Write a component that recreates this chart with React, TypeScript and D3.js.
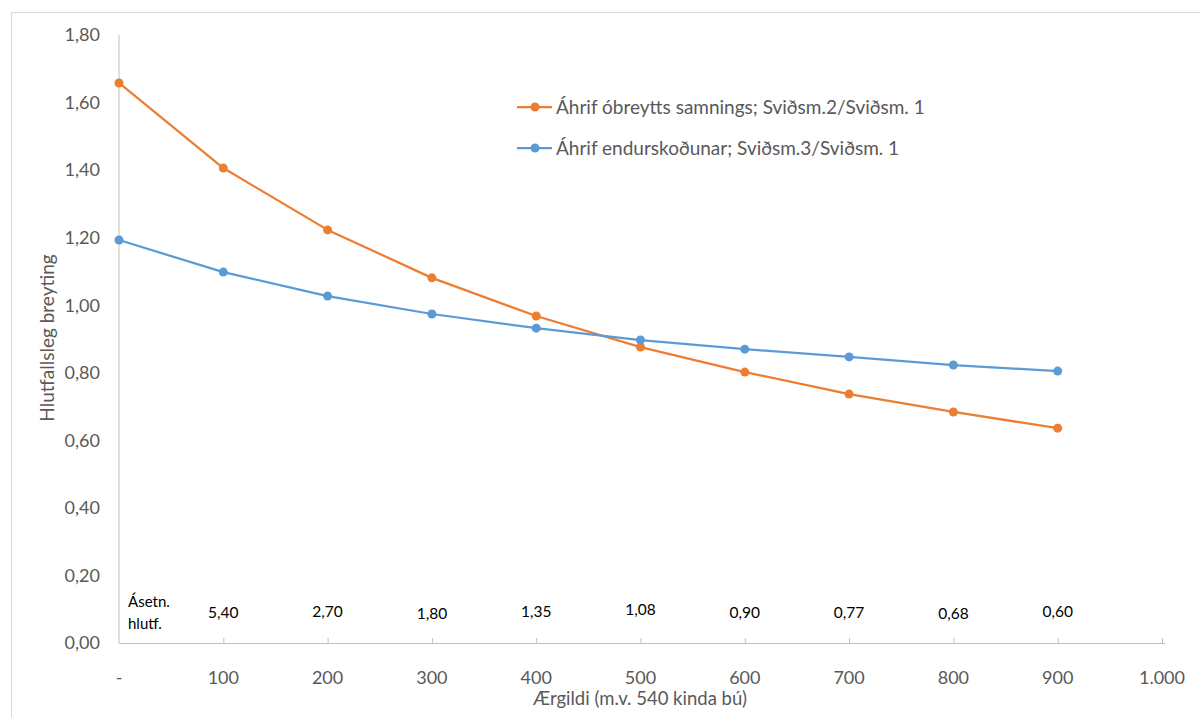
import React from "react";
import * as d3 from "d3";

const xValues = [0, 100, 200, 300, 400, 500, 600, 700, 800, 900];
const seriesOrange = [1.658, 1.406, 1.223, 1.081, 0.968, 0.876, 0.802, 0.737, 0.684, 0.636];
const seriesBlue = [1.193, 1.098, 1.027, 0.974, 0.932, 0.897, 0.870, 0.847, 0.823, 0.805];
const seriesNames = [
  "Áhrif óbreytts samnings; Sviðsm.2/Sviðsm. 1",
  "Áhrif endurskoðunar; Sviðsm.3/Sviðsm. 1",
];
const ratioLabels = ["5,40", "2,70", "1,80", "1,35", "1,08", "0,90", "0,77", "0,68", "0,60"];
const ratioX = [100, 200, 300, 400, 500, 600, 700, 800, 900];
const ratioDy = [0, -1, 1, -1, -3, 0, 0, 1, -1];
const xTicks = [0, 100, 200, 300, 400, 500, 600, 700, 800, 900, 1000];
const yTicks = [0, 0.2, 0.4, 0.6, 0.8, 1.0, 1.2, 1.4, 1.6, 1.8];

const ORANGE = "#ED7D31";
const BLUE = "#5B9BD5";
const FONT = "Lato, 'Open Sans', sans-serif";

export default function App() {
  const x = d3.scaleLinear().domain([0, 1000]).range([119, 1162]);
  const y = d3.scaleLinear().domain([0, 1.8]).range([643, 35]);
  const fmtY = (v: number) => d3.format(".2f")(v).replace(".", ",");
  const fmtX = (v: number) => (v === 0 ? "-" : v >= 1000 ? d3.format(",")(v).replace(",", ".") : String(v));
  const line = d3
    .line<number>()
    .x((_, i) => x(xValues[i]))
    .y((d) => y(d));
  const series = [
    { data: seriesOrange, color: ORANGE, name: seriesNames[0] },
    { data: seriesBlue, color: BLUE, name: seriesNames[1] },
  ];
  return (
    <svg width={1200} height={718} style={{ position: "absolute", left: 0, top: 0, background: "#fff" }}>
      <rect x={11.5} y={12.5} width={1200} height={720} fill="#fff" stroke="#d9d9d9" strokeWidth={1} />
      {/* axes */}
      <line x1={119} x2={119} y1={y(1.8)} y2={y(0)} stroke="#bfbfbf" strokeWidth={1} />
      <line x1={119} x2={x(1000) + 3} y1={643.5} y2={643.5} stroke="#bfbfbf" strokeWidth={1} />
      {xTicks.slice(1).map((t) => (
        <line key={t} x1={x(t) + 0.5} x2={x(t) + 0.5} y1={638} y2={644} stroke="#bfbfbf" strokeWidth={1} />
      ))}
      {yTicks.map((t) => (
        <text key={t} x={100} y={y(t)} dy="0.35em" textAnchor="end" fontFamily={FONT} fontSize={18} fill="#595959">
          {fmtY(t)}
        </text>
      ))}
      {xTicks.map((t) => (
        <text key={t} x={x(t)} y={678} dy="0.35em" textAnchor="middle" fontFamily={FONT} fontSize={18} fill="#595959">
          {fmtX(t)}
        </text>
      ))}
      <text
        transform={`translate(47,338) rotate(-90)`}
        textAnchor="middle"
        dy="0.35em"
        fontFamily={FONT}
        fontSize={19}
        fill="#595959"
      >
        Hlutfallsleg breyting
      </text>
      <text x={640} y={699} dy="0.35em" textAnchor="middle" fontFamily={FONT} fontSize={18.5} fill="#595959">
        Ærgildi (m.v. 540 kinda bú)
      </text>
      {/* ratio annotations */}
      <text x={128} y={602} dy="0.35em" fontFamily={FONT} fontSize={15} fill="#000">Ásetn.</text>
      <text x={128} y={624} dy="0.35em" fontFamily={FONT} fontSize={15} fill="#000">hlutf.</text>
      {ratioLabels.map((l, i) => (
        <text key={l} x={x(ratioX[i])} y={613 + ratioDy[i]} dy="0.35em" textAnchor="middle" fontFamily={FONT} fontSize={15.5} fill="#000">
          {l}
        </text>
      ))}
      {/* series */}
      {series.map((s) => (
        <g key={s.name}>
          <path d={line(s.data) || ""} fill="none" stroke={s.color} strokeWidth={2.25} strokeLinejoin="round" />
          {s.data.map((v, i) => (
            <circle key={i} cx={x(xValues[i])} cy={y(v)} r={4.5} fill={s.color} />
          ))}
        </g>
      ))}
      {/* legend */}
      {series.map((s, i) => (
        <g key={"lg" + i} transform={`translate(0,${107 + i * 41})`}>
          <line x1={517} x2={552} y1={0} y2={0} stroke={s.color} strokeWidth={2.25} />
          <circle cx={535} cy={0} r={4.5} fill={s.color} />
          <text x={556} y={0} dy="0.35em" fontFamily={FONT} fontSize={19} fill="#595959">
            {s.name}
          </text>
        </g>
      ))}
    </svg>
  );
}
